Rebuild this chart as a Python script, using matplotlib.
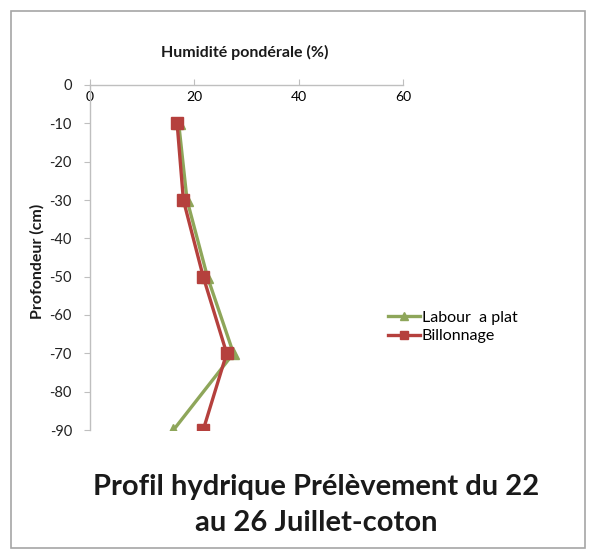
import matplotlib
matplotlib.use('Agg')
import matplotlib.pyplot as plt
import matplotlib.patches as patches

# depth (cm) and gravimetric moisture (%)
depth = [-10, -30, -50, -70, -90]
labour_a_plat = [17.0, 18.6, 22.5, 27.5, 16.0]
billonnage = [16.7, 17.9, 21.7, 26.2, 21.7]
x_ticks = [0, 20, 40, 60]
y_ticks = [0, -10, -20, -30, -40, -50, -60, -70, -80, -90]

plt.rcParams['font.family'] = ['Lato', 'DejaVu Sans']

fig = plt.figure(figsize=(5.9, 5.52), dpi=100)
fig.patch.set_facecolor('white')

# outer frame of the chart area
fig.patches.append(patches.Rectangle((11 / 590, 4 / 552), 574 / 590, 537 / 552,
                                     transform=fig.transFigure, fill=False,
                                     edgecolor='#A6A6A6', linewidth=1.2))

ax = fig.add_axes([90 / 590, 1 - 430 / 552, 313 / 590, 345 / 552])
ax.plot(labour_a_plat, depth, color='#8EA65A', linewidth=2.4, marker='^',
        markersize=8, label='Labour  a plat', zorder=3)
ax.plot(billonnage, depth, color='#B5403D', linewidth=2.4, marker='s',
        markersize=8, label='Billonnage', zorder=4)

ax.set_xlim(0, 60)
ax.set_ylim(-90, 0)
ax.set_xticks(x_ticks)
ax.set_yticks(y_ticks)
ax.set_xticklabels([str(v) for v in x_ticks], fontsize=10.5, color='#222222')
ax.set_yticklabels([str(v) for v in y_ticks], fontsize=10.5, color='#222222')

# horizontal axis crosses at depth 0 (top), labels hang below it
ax.spines['bottom'].set_position(('data', 0))
ax.spines['top'].set_visible(False)
ax.spines['right'].set_visible(False)
for s in ('bottom', 'left'):
    ax.spines[s].set_color('#BFBFBF')
    ax.spines[s].set_linewidth(1.0)
ax.tick_params(axis='x', direction='in', length=4, color='#BFBFBF', pad=4)
ax.tick_params(axis='y', direction='out', length=4, color='#BFBFBF', pad=9)
ax.patch.set_alpha(0)

fig.text(245 / 590, 1 - 52 / 552, 'Humidité pondérale (%)', ha='center',
         va='center', fontsize=11.5, fontweight='bold', color='#1A1A1A')
fig.text(37 / 590, 1 - 261 / 552, 'Profondeur (cm)', ha='center', va='center',
         rotation=90, fontsize=11.5, fontweight='bold', color='#1A1A1A')

fig.legend(loc='center left', bbox_to_anchor=(382 / 590, 1 - 327 / 552),
           frameon=False, fontsize=11.5, handlelength=2.0, handletextpad=0.1,
           labelspacing=0.25, borderaxespad=0, markerscale=0.8)

fig.text(316 / 590, 1 - 505 / 552, 'Profil hydrique Prélèvement du 22\nau 26 Juillet-coton',
         ha='center', va='center', fontsize=21, fontweight='bold',
         color='#1A1A1A', linespacing=1.5)

plt.savefig('out.png', dpi=100, facecolor='white')
plt.close()
